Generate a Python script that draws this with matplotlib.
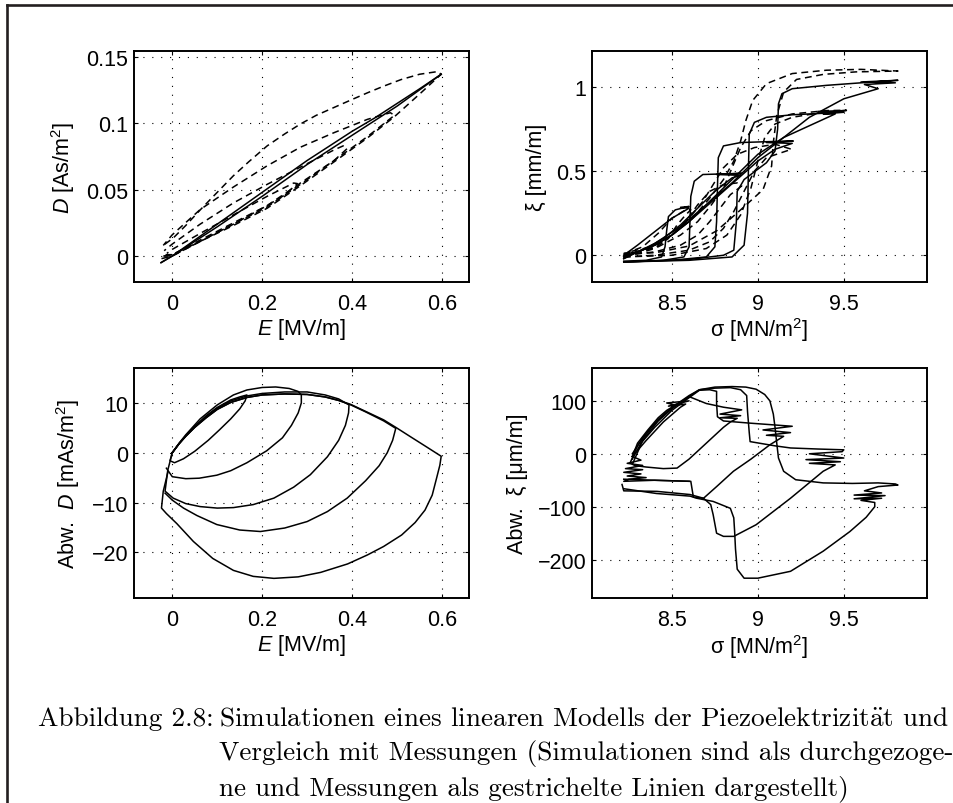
import matplotlib
matplotlib.use('Agg')
import matplotlib.pyplot as plt
from matplotlib.lines import Line2D
from matplotlib.ticker import FuncFormatter

plt.rcParams['font.family'] = ['Liberation Sans', 'DejaVu Sans']
plt.rcParams['mathtext.fontset'] = 'custom'
plt.rcParams['mathtext.rm'] = 'Liberation Sans'
plt.rcParams['mathtext.it'] = 'Liberation Sans:italic'
plt.rcParams['font.size'] = 15.5

# --- D(E): Simulation (durchgezogen) ---
sim_ED_auf = [(-0.025, -0.005), (0.0, 0.0), (0.05, 0.012), (0.1, 0.024), (0.15, 0.036),
              (0.2, 0.048), (0.25, 0.060), (0.3, 0.072), (0.35, 0.083), (0.4, 0.094),
              (0.45, 0.104), (0.5, 0.115), (0.55, 0.126), (0.598, 0.137)]
sim_ED_ab = [(0.598, 0.137), (0.5, 0.113), (0.4, 0.091), (0.3, 0.069), (0.2, 0.045),
             (0.1, 0.022), (0.0, 0.0), (-0.025, -0.005)]

# --- D(E): Messung (gestrichelt), Schleifen bis 0.28 / 0.39 / 0.49 / 0.6 MV/m ---
mess_ED_028 = [(-0.015, 0.001), (0.0, 0.001), (0.062, 0.011), (0.136, 0.024), (0.211, 0.038),
               (0.25, 0.046), (0.278, 0.0546), (0.27, 0.055), (0.211, 0.045), (0.136, 0.031),
               (0.062, 0.017), (0.0, 0.005), (-0.012, 0.002)]
mess_ED_039 = [(-0.018, 0.0), (0.0, 0.001), (0.062, 0.012), (0.136, 0.025), (0.211, 0.038),
               (0.285, 0.055), (0.36, 0.072), (0.389, 0.081), (0.38, 0.083), (0.36, 0.080),
               (0.285, 0.067), (0.211, 0.054), (0.136, 0.040), (0.062, 0.024), (0.0, 0.009),
               (-0.018, 0.004)]
mess_ED_049 = [(-0.02, 0.0), (0.0, 0.0), (0.062, 0.011), (0.136, 0.024), (0.211, 0.037),
               (0.285, 0.054), (0.36, 0.072), (0.434, 0.090), (0.494, 0.106), (0.485, 0.108),
               (0.434, 0.103), (0.36, 0.093), (0.285, 0.082), (0.211, 0.068), (0.136, 0.052),
               (0.062, 0.035), (0.0, 0.016), (-0.02, 0.008)]
mess_ED_060 = [(-0.024, -0.002), (0.0, 0.0), (0.062, 0.011), (0.136, 0.023), (0.211, 0.036),
               (0.285, 0.053), (0.36, 0.071), (0.434, 0.089), (0.494, 0.105), (0.553, 0.123),
               (0.598, 0.137), (0.59, 0.139), (0.55, 0.137), (0.509, 0.133), (0.47, 0.128),
               (0.434, 0.123), (0.4, 0.118), (0.36, 0.112), (0.32, 0.106), (0.285, 0.0995),
               (0.25, 0.092), (0.211, 0.083), (0.17, 0.071), (0.136, 0.0605), (0.1, 0.048),
               (0.062, 0.0347), (0.03, 0.023), (0.002, 0.0135), (-0.024, 0.007)]

# --- xi(sigma): Simulation ---
sim_SX_1 = [(8.22, -0.035), (8.35, -0.03), (8.44, -0.01), (8.46, 0.05), (8.47, 0.15),
            (8.48, 0.23), (8.52, 0.27), (8.6, 0.29), (8.55, 0.285), (8.6, 0.28), (8.5, 0.22),
            (8.4, 0.14), (8.3, 0.06), (8.22, 0.0)]
sim_SX_2 = [(8.22, -0.04), (8.45, -0.03), (8.57, -0.01), (8.6, 0.05), (8.605, 0.2),
            (8.61, 0.35), (8.63, 0.44), (8.68, 0.48), (8.906, 0.487), (8.76, 0.48),
            (8.9, 0.475), (8.85, 0.46), (8.75, 0.38), (8.65, 0.28), (8.55, 0.18),
            (8.45, 0.1), (8.35, 0.04), (8.22, -0.01)]
sim_SX_3 = [(8.22, -0.04), (8.5, -0.03), (8.7, -0.01), (8.75, 0.05), (8.76, 0.2),
            (8.765, 0.4), (8.77, 0.58), (8.8, 0.65), (8.9, 0.67), (9.05, 0.675),
            (9.206, 0.679), (9.05, 0.67), (9.2, 0.665), (9.1, 0.63), (9.0, 0.56),
            (8.9, 0.47), (8.8, 0.38), (8.7, 0.29), (8.6, 0.2), (8.5, 0.12), (8.4, 0.06),
            (8.3, 0.02), (8.22, -0.01)]
sim_SX_4 = [(8.22, -0.04), (8.6, -0.03), (8.85, -0.01), (8.92, 0.06), (8.94, 0.25),
            (8.945, 0.5), (8.95, 0.72), (8.98, 0.79), (9.05, 0.82), (9.2, 0.835),
            (9.4, 0.845), (9.515, 0.86), (9.35, 0.855), (9.5, 0.85), (9.38, 0.84),
            (9.45, 0.84), (9.3, 0.77), (9.15, 0.7), (9.0, 0.6), (8.9, 0.5), (8.8, 0.4),
            (8.7, 0.3), (8.6, 0.2), (8.5, 0.12), (8.4, 0.06), (8.3, 0.02), (8.22, -0.02)]
sim_SX_5 = [(8.22, -0.04), (8.6, -0.025), (8.8, 0.0), (8.86, 0.03), (8.875, 0.2),
            (8.88, 0.38), (8.92, 0.45), (9.05, 0.55), (9.1, 0.62), (9.115, 0.75),
            (9.12, 0.9), (9.14, 0.96), (9.2, 0.99), (9.4, 1.01), (9.6, 1.025),
            (9.815, 1.04), (9.6, 1.03), (9.8, 1.025), (9.62, 1.015), (9.7, 0.99),
            (9.5, 0.93), (9.3, 0.82), (9.15, 0.7), (9.0, 0.58), (8.85, 0.43), (8.7, 0.3),
            (8.55, 0.17), (8.4, 0.07), (8.28, 0.01), (8.22, -0.02)]

# --- xi(sigma): Messung ---
mess_SX_1 = [(8.22, 0.0), (8.3, 0.01), (8.4, 0.04), (8.48, 0.1), (8.53, 0.18), (8.58, 0.24),
             (8.61, 0.27), (8.58, 0.27), (8.5, 0.22), (8.42, 0.13), (8.33, 0.05), (8.24, 0.015)]
mess_SX_2 = [(8.22, 0.0), (8.4, 0.02), (8.55, 0.06), (8.65, 0.12), (8.72, 0.2), (8.78, 0.28),
             (8.84, 0.36), (8.906, 0.412), (8.88, 0.43), (8.8, 0.42), (8.72, 0.38),
             (8.65, 0.3), (8.58, 0.2), (8.5, 0.12), (8.4, 0.06), (8.3, 0.02), (8.22, 0.01)]
mess_SX_3 = [(8.22, -0.01), (8.4, 0.0), (8.6, 0.03), (8.72, 0.08), (8.8, 0.16), (8.86, 0.26),
             (8.92, 0.38), (8.98, 0.5), (9.05, 0.58), (9.196, 0.63), (9.1, 0.66),
             (8.98, 0.64), (8.88, 0.6), (8.8, 0.52), (8.74, 0.42), (8.68, 0.32), (8.6, 0.22),
             (8.5, 0.12), (8.4, 0.05), (8.3, 0.02), (8.22, 0.01)]
mess_SX_4 = [(8.22, -0.01), (8.5, 0.0), (8.7, 0.04), (8.82, 0.12), (8.9, 0.24), (8.96, 0.4),
             (9.0, 0.56), (9.04, 0.7), (9.1, 0.78), (9.2, 0.82), (9.35, 0.845),
             (9.515, 0.862), (9.4, 0.86), (9.2, 0.84), (9.05, 0.8), (8.96, 0.74),
             (8.9, 0.64), (8.85, 0.52), (8.8, 0.4), (8.73, 0.3), (8.65, 0.2), (8.55, 0.12),
             (8.42, 0.05), (8.3, 0.02), (8.22, 0.01)]
mess_SX_5 = [(8.22, 0.006), (8.41, 0.016), (8.6, 0.055), (8.76, 0.145), (8.9, 0.27),
             (9.03, 0.39), (9.08, 0.53), (9.09, 0.67), (9.11, 0.83), (9.15, 0.97),
             (9.225, 1.045), (9.38, 1.075), (9.57, 1.09), (9.815, 1.095), (9.6, 1.105),
             (9.4, 1.1), (9.2, 1.08), (9.05, 1.02), (8.97, 0.92), (8.93, 0.8), (8.9, 0.68),
             (8.86, 0.56), (8.8, 0.45), (8.72, 0.34), (8.62, 0.22), (8.5, 0.12),
             (8.38, 0.05), (8.25, 0.02)]

# --- Abweichung D(E) in mAs/m^2 ---
abw_ED_1 = [(0.0, 0.0), (0.015, 1.8), (0.03, 3.4), (0.05, 5.3), (0.075, 7.4), (0.1, 9.1),
            (0.13, 10.6), (0.15, 11.2), (0.166, 11.6), (0.162, 10.4), (0.15, 8.8),
            (0.13, 6.8), (0.105, 4.6), (0.08, 2.5), (0.05, 0.3), (0.025, -1.2),
            (0.005, -2.0), (-0.005, -1.6), (0.0, 0.0)]
abw_ED_2 = [(0.0, 0.0), (0.015, 1.9), (0.03, 3.6), (0.062, 6.8), (0.1, 9.6), (0.136, 11.6),
            (0.166, 12.6), (0.2, 13.1), (0.23, 13.2), (0.26, 12.9), (0.28, 12.3),
            (0.287, 11.6), (0.287, 10.0), (0.28, 8.0), (0.265, 5.5), (0.245, 3.0),
            (0.21, 0.4), (0.166, -2.0), (0.13, -3.6), (0.099, -4.5), (0.06, -5.1),
            (0.03, -5.2), (0.0, -4.8), (-0.013, -3.1)]
abw_ED_3 = [(0.0, 0.0), (0.015, 1.8), (0.03, 3.4), (0.05, 5.2), (0.075, 7.2), (0.1, 8.9),
            (0.13, 10.4), (0.166, 11.4), (0.2, 11.9), (0.25, 12.2), (0.3, 12.2),
            (0.34, 11.6), (0.37, 10.8), (0.393, 9.6), (0.392, 8.0), (0.385, 5.5),
            (0.37, 2.5), (0.345, -0.8), (0.307, -4.4), (0.27, -6.9), (0.226, -9.1),
            (0.18, -10.4), (0.136, -11.0), (0.1, -11.1), (0.062, -10.8), (0.03, -10.2),
            (0.002, -9.1), (-0.016, -7.7), (-0.01, -3.5), (0.0, 0.0)]
abw_ED_4 = [(0.0, 0.0), (0.015, 1.8), (0.03, 3.3), (0.05, 5.1), (0.075, 7.0), (0.1, 8.7),
            (0.13, 10.1), (0.166, 11.1), (0.2, 11.6), (0.25, 11.8), (0.3, 11.7),
            (0.34, 11.2), (0.37, 10.5), (0.397, 9.6), (0.43, 8.2), (0.47, 6.4),
            (0.497, 4.9), (0.49, 2.5), (0.478, 0.0), (0.46, -2.6), (0.43, -5.6),
            (0.389, -9.1), (0.345, -11.8), (0.3, -13.8), (0.25, -15.1), (0.196, -15.8),
            (0.15, -15.5), (0.099, -14.4), (0.055, -12.6), (0.025, -11.1), (0.0, -9.5),
            (-0.016, -8.1)]
abw_ED_5 = [(0.0, 0.0), (0.015, 1.8), (0.03, 3.3), (0.05, 5.1), (0.075, 7.0), (0.1, 8.7),
            (0.13, 10.1), (0.166, 11.1), (0.2, 11.6), (0.25, 11.8), (0.3, 11.7),
            (0.34, 11.2), (0.37, 10.5), (0.397, 9.7), (0.43, 8.3), (0.47, 6.6),
            (0.497, 5.1), (0.53, 3.2), (0.565, 1.2), (0.598, -0.7), (0.595, -2.5),
            (0.588, -5.0), (0.578, -8.5), (0.562, -11.5), (0.54, -14.0), (0.51, -16.5),
            (0.47, -18.8), (0.434, -20.5), (0.39, -22.3), (0.33, -24.0), (0.28, -24.9),
            (0.226, -25.2), (0.18, -24.8), (0.136, -23.6), (0.09, -21.2), (0.047, -17.8),
            (0.01, -14.2), (-0.013, -12.2), (-0.024, -11.1), (-0.02, -7.7), (-0.01, -4.0)]

# --- Abweichung xi(sigma) in um/m ---
abw_SX_1 = [(8.27, -5), (8.30, 20), (8.36, 45), (8.42, 68), (8.47, 82), (8.52, 92),
            (8.47, 96), (8.6, 100), (8.48, 90), (8.58, 94), (8.55, 88), (8.45, 60),
            (8.35, 25), (8.27, -5)]
abw_SX_2 = [(8.27, -20), (8.33, 25), (8.42, 62), (8.5, 85), (8.6, 108), (8.7, 95),
            (8.8, 88), (8.906, 83), (8.78, 75), (8.9, 72), (8.78, 68), (8.88, 67),
            (8.84, 60), (8.8, 50), (8.7, 20), (8.6, -10), (8.53, -27), (8.45, -28),
            (8.35, -25), (8.28, -22)]
abw_SX_3 = [(8.27, -10), (8.32, 20), (8.40, 50), (8.5, 82), (8.6, 106), (8.66, 120),
            (8.72, 121), (8.76, 118), (8.76, 95), (8.765, 70), (8.8, 62), (8.95, 58),
            (9.2, 52), (9.03, 45), (9.19, 40), (9.05, 35), (9.15, 33), (9.07, 17),
            (8.96, -10), (8.858, -33), (8.76, -62), (8.684, -84), (8.625, -82),
            (8.61, -52), (8.4, -50), (8.22, -48)]
abw_SX_4 = [(8.27, 0), (8.33, 30), (8.42, 65), (8.52, 92), (8.6, 110), (8.66, 121),
            (8.75, 124), (8.84, 125), (8.9, 121), (8.935, 110), (8.94, 80), (8.95, 40),
            (8.955, 23), (9.1, 15), (9.19, 11), (9.35, 9), (9.5, 7.5), (9.49, 4),
            (9.3, 0), (9.5, -8), (9.28, -11), (9.48, -15), (9.3, -18), (9.45, -21),
            (9.38, -33), (9.19, -84), (8.99, -134), (8.86, -156), (8.8, -156),
            (8.76, -150), (8.74, -115), (8.726, -96), (8.684, -84), (8.606, -77),
            (8.413, -71), (8.22, -70), (8.21, -58)]
abw_SX_5 = [(8.26, -15), (8.3, 15), (8.38, 50), (8.48, 82), (8.58, 104), (8.66, 121),
            (8.75, 126), (8.85, 127), (8.93, 126), (8.99, 122), (9.04, 112), (9.07, 100),
            (9.09, 75), (9.10, 50), (9.11, 20), (9.12, -8), (9.15, -33), (9.22, -49),
            (9.38, -55), (9.55, -56), (9.7, -55), (9.8, -57), (9.815, -59), (9.7, -62),
            (9.62, -70), (9.72, -74), (9.56, -78), (9.74, -79), (9.56, -85), (9.72, -84),
            (9.6, -88), (9.68, -92), (9.68, -100), (9.63, -120), (9.535, -147),
            (9.38, -184), (9.19, -222), (9.0, -235), (8.92, -235), (8.88, -218),
            (8.87, -180), (8.865, -147), (8.86, -121), (8.84, -103), (8.74, -90),
            (8.645, -84), (8.606, -80), (8.41, -75), (8.22, -66)]
abw_SX_links = [(8.27, -5), (8.32, -12), (8.24, -18), (8.33, -22), (8.23, -28), (8.33, -30),
                (8.22, -35), (8.32, -38), (8.24, -42), (8.35, -45), (8.25, -48), (8.22, -52),
                (8.4, -50), (8.6, -52)]

E_ticks = [0, 0.2, 0.4, 0.6]
sigma_ticks = [8.5, 9, 9.5]

caption_label = 'Abbildung 2.8:'
caption_lines = [
    r'Simulationen eines linearen Modells der Piezoelektrizit$\ddot{\mathrm{a}}$t und',
    'Vergleich mit Messungen (Simulationen sind als durchgezoge-',
    'ne und Messungen als gestrichelte Linien dargestellt)',
]

fmt = FuncFormatter(lambda v, p: f'{v:g}'.replace('-', '\u2212'))
LW = 1.1
DASH = (0, (4.5, 3))


def linie(ax, pts, **kw):
    xs, ys = zip(*pts)
    ax.plot(xs, ys, color='black', linewidth=LW, solid_joinstyle='round', **kw)


def achse(ax, xlim, ylim, xticks, yticks, xlabel, ylabel):
    ax.set_xlim(xlim)
    ax.set_ylim(ylim)
    ax.set_xticks(xticks)
    ax.set_yticks(yticks)
    ax.xaxis.set_major_formatter(fmt)
    ax.yaxis.set_major_formatter(fmt)
    ax.grid(True, color='black', linestyle=(0, (1, 7)), linewidth=0.8)
    ax.tick_params(direction='in', length=3, width=0.8, top=True, right=True)
    ax.tick_params(axis='x', pad=8)
    ax.tick_params(axis='y', pad=4)
    for s in ax.spines.values():
        s.set_linewidth(1.4)
    ax.set_xlabel(xlabel, labelpad=1)
    ax.set_ylabel(ylabel, labelpad=7)


fig = plt.figure(figsize=(9.54, 8.04), dpi=100)
ax1 = fig.add_axes([0.1405, 0.648, 0.3512, 0.2873])
ax2 = fig.add_axes([0.6205, 0.648, 0.3512, 0.2873])
ax3 = fig.add_axes([0.1405, 0.2546, 0.3512, 0.2864])
ax4 = fig.add_axes([0.6205, 0.2546, 0.3512, 0.2864])

for pts in [mess_ED_028, mess_ED_039, mess_ED_049, mess_ED_060]:
    linie(ax1, pts, linestyle=DASH)
linie(ax1, sim_ED_auf)
linie(ax1, sim_ED_ab)
achse(ax1, (-0.085, 0.66), (-0.0196, 0.1545), E_ticks, [0, 0.05, 0.1, 0.15],
      '$E$ [MV/m]', '$D$ [As/m$^2$]')

for pts in [mess_SX_1, mess_SX_2, mess_SX_3, mess_SX_4, mess_SX_5]:
    linie(ax2, pts, linestyle=DASH)
for pts in [sim_SX_1, sim_SX_2, sim_SX_3, sim_SX_4, sim_SX_5]:
    linie(ax2, pts)
achse(ax2, (8.035, 9.984), (-0.159, 1.214), sigma_ticks, [0, 0.5, 1],
      'σ [MN/m$^2$]', 'ξ [mm/m]')

for pts in [abw_ED_1, abw_ED_2, abw_ED_3, abw_ED_4, abw_ED_5]:
    linie(ax3, pts)
achse(ax3, (-0.085, 0.66), (-29.2, 17.0), E_ticks, [-20, -10, 0, 10],
      '$E$ [MV/m]', 'Abw.  $D$ [mAs/m$^2$]')

for pts in [abw_SX_1, abw_SX_2, abw_SX_3, abw_SX_4, abw_SX_5, abw_SX_links]:
    linie(ax4, pts)
achse(ax4, (8.035, 9.984), (-273, 162), sigma_ticks, [-200, -100, 0, 100],
      'σ [MN/m$^2$]', 'Abw.  ξ [μm/m]')

# Rahmen links und oben
fig.add_artist(Line2D([7 / 954, 7 / 954], [0, 1 - 5.5 / 804], color='#231f20', linewidth=1.9))
fig.add_artist(Line2D([7 / 954, 1], [1 - 5.5 / 804, 1 - 5.5 / 804], color='#231f20', linewidth=1.9))

cap_font = ['cmr10', 'DejaVu Serif']
cap_size = 19.6
fig.text(38 / 954, 1 - 719 / 804, caption_label, family=cap_font, fontsize=cap_size,
         va='center')
for i, zeile in enumerate(caption_lines):
    fig.text(219 / 954, 1 - (719 + 35 * i) / 804, zeile, family=cap_font,
             fontsize=cap_size, va='center', math_fontfamily='cm')

fig.savefig('out.png', dpi=100)
